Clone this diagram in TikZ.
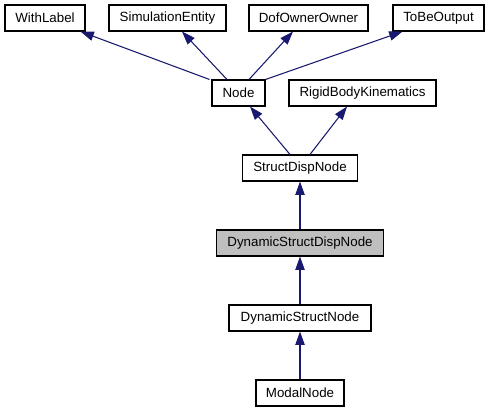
\documentclass[tikz,border=0pt]{standalone}
\usepackage{fontspec}
\setmainfont{Liberation Sans}
\usetikzlibrary{arrows.meta,calc}
\definecolor{edgeblue}{RGB}{25,25,112}
\definecolor{hilite}{RGB}{191,191,191}
\tikzset{
  cls/.style={draw=black, line width=0.8pt, fill=white, inner sep=0pt,
    minimum height=26*0.75pt, font=\fontsize{10pt}{12pt}\selectfont},
  edge/.style={draw=edgeblue, line width=0.8pt,
    -{Triangle[length=10pt,width=7pt]}}
}
\begin{document}
\begin{tikzpicture}[x=0.75pt,y=-0.75pt]
\useasboundingbox[fill=white] (0,0) rectangle (489,411);
\node[cls, minimum width=80*0.75pt]  (WL)  at (45,18)    {WithLabel};
\node[cls, minimum width=117*0.75pt] (SE)  at (167.5,18) {SimulationEntity};
\node[cls, minimum width=119*0.75pt] (DOO) at (308.5,18) {DofOwnerOwner};
\node[cls, minimum width=91*0.75pt]  (TBO) at (438.5,18) {ToBeOutput};
\node[cls, minimum width=53*0.75pt]  (N)   at (238.5,93) {Node};
\node[cls, minimum width=147*0.75pt] (RBK) at (362.5,93) {RigidBodyKinematics};
\node[cls, minimum width=115*0.75pt] (SDN) at (300,168) {StructDispNode};
\node[cls, fill=hilite, minimum width=167*0.75pt] (DSDN) at (300,243) {DynamicStructDispNode};
\node[cls, minimum width=142*0.75pt] (DSN) at (300,318) {DynamicStructNode};
\node[cls, minimum width=88*0.75pt]  (MN)  at (300,393) {ModalNode};

\draw[edge] ($(N.north west)+(-2,0)$) -- ($(WL.south east)+(-5,0)$);
\draw[edge] ($(N.north)+(-11.5,0)$) -- ($(SE.south)+(14.5,0)$);
\draw[edge] ($(N.north)+(10.5,0)$) -- ($(DOO.south)+(-15.5,0)$);
\draw[edge] (N.north east) -- ($(TBO.south west)+(10,0)$);
\draw[edge] ($(SDN.north)+(-10,0)$) -- ($(N.south)+(11.5,0)$);
\draw[edge] ($(SDN.north)+(10,0)$) -- ($(RBK.south)+(-15.5,0)$);
\draw[edge] (DSDN.north) -- (SDN.south);
\draw[edge] (DSN.north) -- (DSDN.south);
\draw[edge] (MN.north) -- (DSN.south);
\end{tikzpicture}
\end{document}
